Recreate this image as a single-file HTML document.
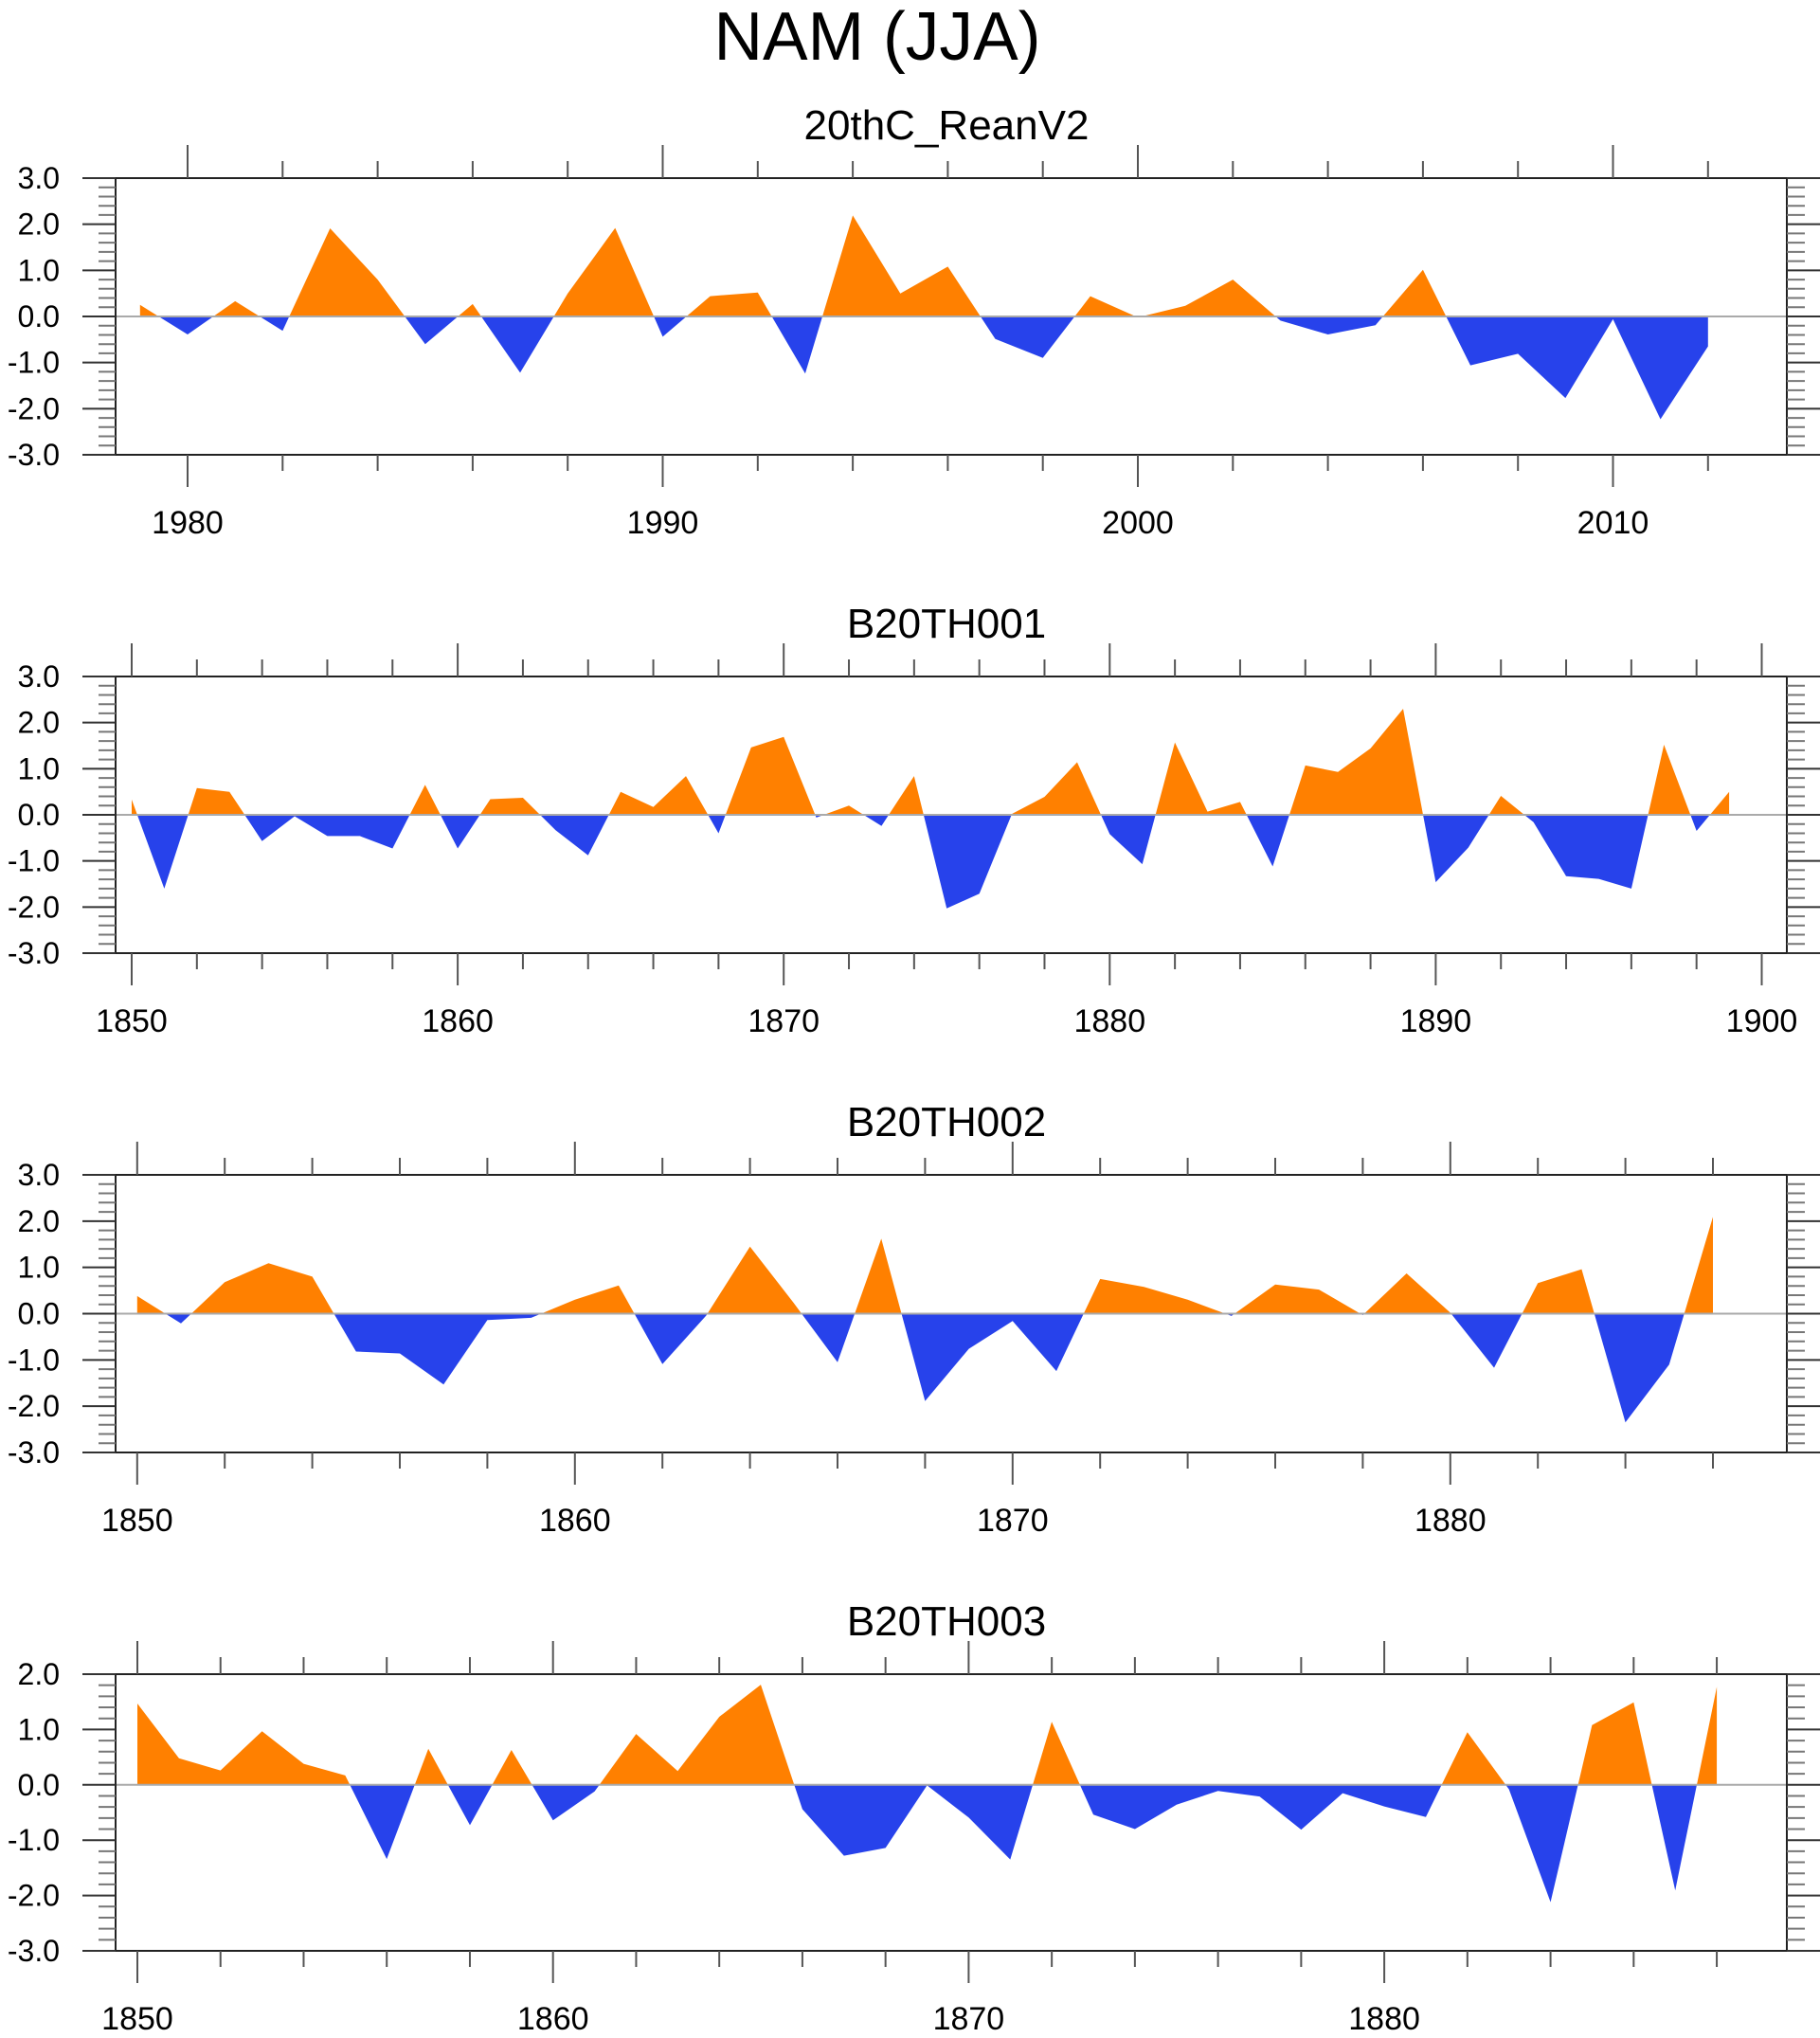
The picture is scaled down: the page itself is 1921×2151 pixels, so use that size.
<!DOCTYPE html>
<html><head><meta charset="utf-8"><style>
html,body{margin:0;padding:0;background:#fff}
svg{display:block}
text{font-family:"Liberation Sans",sans-serif;fill:#000}
</style></head><body>
<svg id="chart" width="1921" height="2151" viewBox="0 0 1921 2151" xmlns="http://www.w3.org/2000/svg">
<text x="926" y="63" font-size="72" text-anchor="middle" textLength="345" lengthAdjust="spacingAndGlyphs">NAM (JJA)</text>
</svg>
<script>
const years1Start = 1979;
const values1 = [0.25,-0.39,0.33,-0.31,1.91,0.8,-0.6,0.27,-1.22,0.5,1.92,-0.44,0.44,0.52,-1.24,2.19,0.5,1.08,-0.49,-0.9,0.44,-0.02,0.23,0.8,-0.09,-0.39,-0.19,1.01,-1.06,-0.81,-1.77,-0.06,-2.23,-0.65];
const years2Start = 1850;
const values2 = [0.33,-1.6,0.58,0.5,-0.57,-0.03,-0.46,-0.46,-0.73,0.65,-0.73,0.34,0.37,-0.33,-0.88,0.5,0.17,0.84,-0.4,1.46,1.69,-0.06,0.2,-0.24,0.84,-2.03,-1.71,0.02,0.39,1.14,-0.42,-1.07,1.57,0.07,0.28,-1.12,1.07,0.93,1.44,2.3,-1.46,-0.71,0.41,-0.16,-1.33,-1.39,-1.6,1.52,-0.35,0.5];
const years3Start = 1850;
const values3 = [0.38,-0.21,0.68,1.09,0.8,-0.82,-0.86,-1.53,-0.14,-0.09,0.3,0.61,-1.09,-0.04,1.45,0.23,-1.05,1.62,-1.89,-0.76,-0.16,-1.24,0.75,0.58,0.3,-0.05,0.63,0.52,-0.03,0.87,0.02,-1.17,0.66,0.96,-2.35,-1.1,2.09];
const years4Start = 1850;
const values4 = [1.47,0.48,0.26,0.97,0.38,0.17,-1.34,0.65,-0.73,0.63,-0.64,-0.12,0.92,0.25,1.23,1.81,-0.44,-1.28,-1.14,-0.01,-0.59,-1.35,1.14,-0.54,-0.8,-0.36,-0.11,-0.21,-0.81,-0.15,-0.39,-0.58,0.95,-0.08,-2.12,1.08,1.49,-1.91,1.77];
const panelTitles = ["20thC_ReanV2","B20TH001","B20TH002","B20TH003"];
const yTickLabels1 = ["3.0","2.0","1.0","0.0","-1.0","-2.0","-3.0"];
const yTickLabels4 = ["2.0","1.0","0.0","-1.0","-2.0","-3.0"];

const NS="http://www.w3.org/2000/svg";
const svg=document.getElementById('chart');
function mk(tag,attrs,parent){const e=document.createElementNS(NS,tag);for(const k in attrs)e.setAttribute(k,attrs[k]);(parent||svg).appendChild(e);return e;}

const panels=[
 {start:years1Start,vals:values1,top:188,bot:480,ymin:-3,ymax:3,x0yr:1980,x0:198,per:50.15,xmin:1978.5,xmax:2013.5,labels:yTickLabels1,xl:[1980,1990,2000,2010]},
 {start:years2Start,vals:values2,top:714,bot:1006,ymin:-3,ymax:3,x0yr:1850,x0:139,per:34.41,xmin:1849.5,xmax:1900.5,labels:yTickLabels1,xl:[1850,1860,1870,1880,1890,1900]},
 {start:years3Start,vals:values3,top:1240,bot:1533,ymin:-3,ymax:3,x0yr:1850,x0:144.8,per:46.2,xmin:1849.5,xmax:1887.5,labels:yTickLabels1,xl:[1850,1860,1870,1880]},
 {start:years4Start,vals:values4,top:1767,bot:2059,ymin:-3,ymax:2,x0yr:1850,x0:145,per:43.87,xmin:1849.5,xmax:1889.5,labels:yTickLabels4,xl:[1850,1860,1870,1880]}
];
const L=122,R=1886;
panels.forEach((p,i)=>{
 const g=mk('g',{});
 
 
 const xs=y=>p.x0+(y-p.x0yr)*p.per;
 const ys=v=>p.bot-(v-p.ymin)/(p.ymax-p.ymin)*(p.bot-p.top);
 const zy=ys(0);
 const t=mk('text',{x:999,y:p.top-41,'font-size':44,'text-anchor':'middle'},g);
 
 
 t.textContent=panelTitles[i];
 let d='M'+xs(p.start)+','+zy;
 p.vals.forEach((v,k)=>{d+=' L'+xs(p.start+k).toFixed(1)+','+ys(v).toFixed(1);});
 d+=' L'+xs(p.start+p.vals.length-1)+','+zy+' Z';
 const cid='c'+i;
 const defs=mk('defs',{},g);
 const cpA=mk('clipPath',{id:cid+'a'},defs);mk('rect',{x:L,y:p.top,width:R-L,height:zy-p.top},cpA);
 const cpB=mk('clipPath',{id:cid+'b'},defs);mk('rect',{x:L,y:zy,width:R-L,height:p.bot-zy},cpB);
 const pa=mk('path',{d:d,fill:'#ff8000','clip-path':'url(#'+cid+'a)'},g);
 
 
 const pb=mk('path',{d:d,fill:'#2742eb','clip-path':'url(#'+cid+'b)'},g);
 
 
 const zl=mk('line',{x1:L,x2:R,y1:zy,y2:zy,stroke:'#aaa','stroke-width':2},g);
 
 
 mk('line',{x1:87,x2:1921,y1:p.top,y2:p.top,stroke:'#222','stroke-width':2},g);
 mk('line',{x1:87,x2:1921,y1:p.bot,y2:p.bot,stroke:'#222','stroke-width':2},g);
 mk('line',{x1:L,x2:L,y1:p.top,y2:p.bot,stroke:'#222','stroke-width':2},g);
 mk('line',{x1:R,x2:R,y1:p.top,y2:p.bot,stroke:'#222','stroke-width':2},g);
 for(let v=p.ymin;v<=p.ymax+1e-6;v+=0.2){
  const yy=ys(v);const maj=Math.abs(v-Math.round(v))<1e-6;
  mk('line',{x1:maj?87:104,x2:L,y1:yy,y2:yy,stroke:maj?'#333':'#777','stroke-width':2},g);
  mk('line',{x1:R,x2:maj?1921:1905,y1:yy,y2:yy,stroke:maj?'#333':'#777','stroke-width':2},g);
 }
 p.labels.forEach(lb=>{
  const tx=mk('text',{x:63,y:ys(parseFloat(lb))+11,'font-size':32,'text-anchor':'end'},g);
  
  
  tx.textContent=lb;
 });
 const y0=Math.ceil(p.xmin/2)*2;
 for(let y=y0;y<=p.xmax;y+=2){
  const xx=xs(y);const maj=y%10===0;
  mk('line',{x1:xx,x2:xx,y1:p.top-(maj?35:18),y2:p.top,stroke:'#555','stroke-width':2},g);
  mk('line',{x1:xx,x2:xx,y1:p.bot,y2:p.bot+(maj?34:17),stroke:'#555','stroke-width':2},g);
 }
 p.xl.forEach(y=>{
  const tx=mk('text',{x:xs(y),y:p.bot+83,'font-size':34,'text-anchor':'middle'},g);
  
  
  tx.textContent=y;
 });
});
</script>
</body></html>
